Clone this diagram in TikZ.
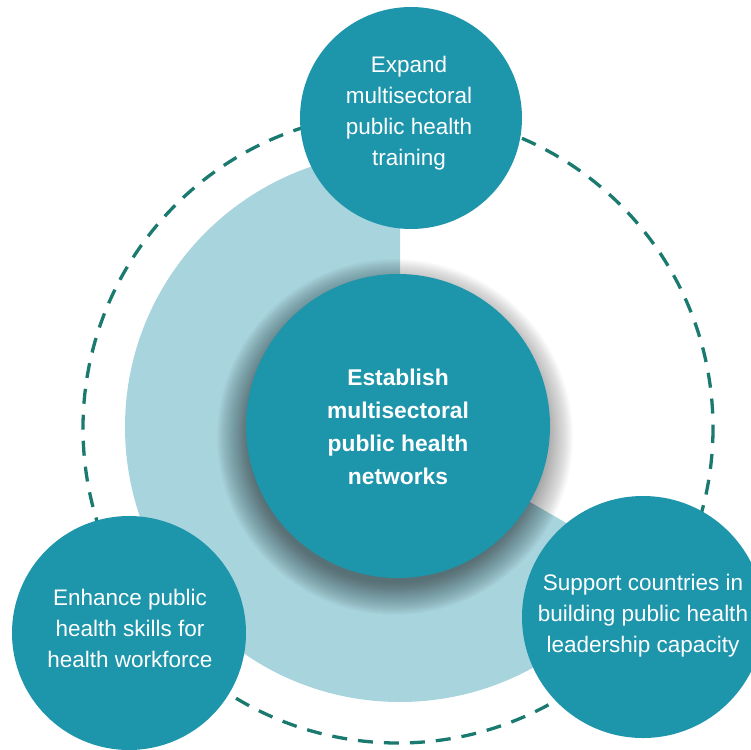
\documentclass[tikz,border=0pt]{standalone}
\usepackage{fontspec}
\setmainfont{Liberation Sans}
\definecolor{teal1}{HTML}{1D95AB}
\definecolor{light1}{HTML}{A7D4DD}
\definecolor{dash1}{HTML}{1B7A6F}
\tikzset{
  bubble/.style={circle, fill=teal1, inner sep=0pt},
  label1/.style={align=center, text=white, inner sep=0pt, font=\fontsize{22.5}{31}\selectfont},
  label2/.style={align=center, text=white, inner sep=0pt, font=\fontsize{22.8}{33}\selectfont\bfseries},
  ring/.style={draw=dash1, line width=3.3pt, dash pattern=on 15pt off 11pt}
}
\begin{document}
\begin{tikzpicture}[x=1pt, y=-1pt]
\useasboundingbox (0,0) rectangle (751,749);
\clip (0,0) rectangle (751,749);
\coordinate (c) at (400,427);
\fill[light1] (c) -- ++(0,-275) arc[start angle=-90, end angle=-330, radius=275] -- cycle;
\draw[ring] (398,428) circle[radius=315];
% soft shadow of the hub
\foreach \r in {178,177,...,146}{
  \fill[black, opacity=0.014] (395,437) circle[radius=\r];
}
\node[bubble, minimum size=304pt] (center) at (398,426) {};
\node[label2] (centertext) at (398,427) {Establish\\multisectoral\\public health\\networks};
\node[bubble, minimum size=222pt] (top) at (411,118) {};
\node[label1] (toptext) at (409,113) {Expand\\multisectoral\\public health\\training};
\node[bubble, minimum size=234pt] (bl) at (129,633) {};
\node[label1] (bltext) at (130,628) {Enhance public\\health skills for\\health workforce};
\node[bubble, minimum size=242pt] (br) at (643,617) {};
\node[label1] (brtext) at (643,616) {Support countries in\\building public health\\leadership capacity};
\end{tikzpicture}
\end{document}
